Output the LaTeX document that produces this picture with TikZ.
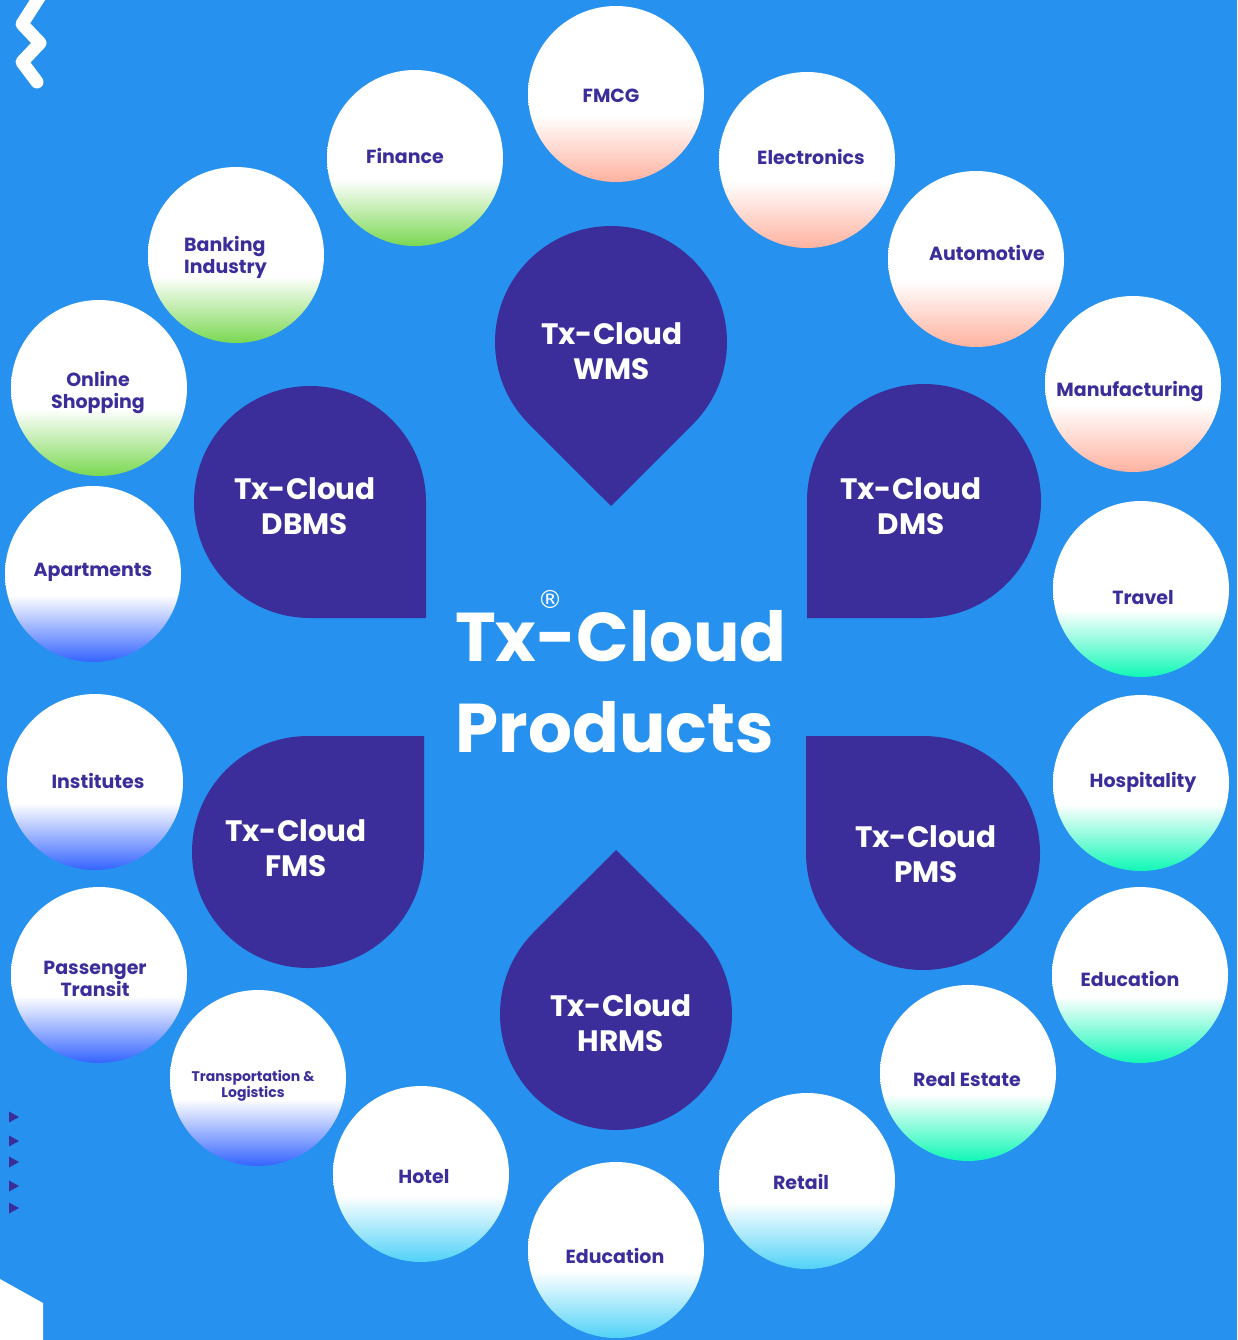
\documentclass[tikz,border=0pt]{standalone}
\usepackage{fontspec}
\setmainfont{Poppins}
\newfontfamily\symfont{DejaVu Sans}
\definecolor{bg}{RGB}{38,145,238}
\definecolor{pinc}{RGB}{59,46,155}
\definecolor{cpink}{RGB}{255,178,160}
\definecolor{cgreen}{RGB}{122,216,82}
\definecolor{cblue}{RGB}{52,100,255}
\definecolor{ccyan}{RGB}{80,210,248}
\definecolor{cteal}{RGB}{16,248,182}
\pgfdeclareverticalshading{gpink}{100bp}{color(0bp)=(cpink); color(25bp)=(cpink); color(44bp)=(white); color(100bp)=(white)}
\pgfdeclareverticalshading{ggreen}{100bp}{color(0bp)=(cgreen); color(25bp)=(cgreen); color(44bp)=(white); color(100bp)=(white)}
\pgfdeclareverticalshading{gblue}{100bp}{color(0bp)=(cblue); color(25bp)=(cblue); color(44bp)=(white); color(100bp)=(white)}
\pgfdeclareverticalshading{gcyan}{100bp}{color(0bp)=(ccyan); color(25bp)=(ccyan); color(44bp)=(white); color(100bp)=(white)}
\pgfdeclareverticalshading{gteal}{100bp}{color(0bp)=(cteal); color(25bp)=(cteal); color(44bp)=(white); color(100bp)=(white)}
\begin{document}
\begin{tikzpicture}[x=1pt,y=-1pt,
  bubble/.style={circle, minimum size=176pt, inner sep=0pt, shade, shading=#1},
  lab/.style={text=pinc, font=\bfseries\fontsize{19}{22}\selectfont, align=center, inner sep=0pt},
  pin/.style={fill=pinc},
  pinlab/.style={text=white, font=\bfseries\fontsize{29.5}{35}\selectfont, align=center, inner sep=0pt},
  ttl/.style={text=white, font=\bfseries\fontsize{69}{69}\selectfont, inner sep=0pt},
  tri/.style={fill=pinc}]
\useasboundingbox (0,0) rectangle (1237,1340);
\fill[bg] (0,0) rectangle (1237,1340);
% decorations
\draw[white, line width=13pt, line cap=round, line join=round] (40,-4) -- (22,24) -- (40,43) -- (22,62) -- (37,82);
\fill[white] (0,1279) -- (43,1303) -- (43,1340) -- (0,1340) -- cycle;
\foreach \yy in {1117,1141,1162,1186,1208}{
  \fill[tri] (9,\yy-5.5) -- (19,\yy) -- (9,\yy+5.5) -- cycle;}
% pins
\fill[pin] (611,342) ++(45:116) arc[start angle=45,end angle=-225,radius=116] -- (611,506) -- cycle;
\fill[pin] (616,1014) ++(-45:116) arc[start angle=-45,end angle=225,radius=116] -- (616,850) -- cycle;
\fill[pin] (426,618) -- (426,502) arc[start angle=0,end angle=-270,radius=116] -- cycle;
\fill[pin] (807,618) -- (924,618) arc[start angle=90,end angle=-180,radius=117] -- cycle;
\fill[pin] (424,736) -- (308,736) arc[start angle=-90,end angle=-360,radius=116] -- cycle;
\fill[pin] (806,736) -- (806,853) arc[start angle=180,end angle=-90,radius=117] -- cycle;
\node[pinlab] (wms) at (612,351) {Tx-Cloud\\WMS};
\node[pinlab] (dbms) at (305,506) {Tx-Cloud\\DBMS};
\node[pinlab] (dms) at (911,506) {Tx-Cloud\\DMS};
\node[pinlab] (fms) at (296,848) {Tx-Cloud\\FMS};
\node[pinlab] (pms) at (926,854) {Tx-Cloud\\PMS};
\node[pinlab] (hrms) at (621,1023) {Tx-Cloud\\HRMS};
% title
\node[ttl] (title1) at (621,636) {Tx-Cloud};
\node[ttl] (title2) at (615,727) {Products};
\node[text=white, font=\symfont\fontsize{25}{25}\selectfont, inner sep=0pt] (reg) at (550,599) {®};
% bubbles
\node[bubble=gpink] (b-fmcg) at (616,94) {};
\node[bubble=gpink] (b-elec) at (807,160) {};
\node[bubble=gpink] (b-auto) at (976,259) {};
\node[bubble=gpink] (b-manu) at (1133,384) {};
\node[bubble=gteal] (b-trav) at (1141,589) {};
\node[bubble=gteal] (b-hosp) at (1141,783) {};
\node[bubble=gteal] (b-edur) at (1140,975) {};
\node[bubble=gteal] (b-real) at (968,1073) {};
\node[bubble=gcyan] (b-reta) at (807,1181) {};
\node[bubble=gcyan] (b-edub) at (616,1250) {};
\node[bubble=gcyan] (b-hote) at (421,1174) {};
\node[bubble=gblue] (b-tran) at (258,1078) {};
\node[bubble=gblue] (b-pass) at (99,975) {};
\node[bubble=gblue] (b-inst) at (95,782) {};
\node[bubble=gblue] (b-apar) at (93,574) {};
\node[bubble=ggreen] (b-onli) at (99,388) {};
\node[bubble=ggreen] (b-bank) at (236,255) {};
\node[bubble=ggreen] (b-fina) at (415,158) {};
% labels
\node[lab] (t-fmcg) at (611,96) {FMCG};
\node[lab] (t-elec) at (811,157) {Electronics};
\node[lab] (t-auto) at (987,253) {Automotive};
\node[lab] (t-manu) at (1130,392) {Manufacturing};
\node[lab] (t-trav) at (1143,598) {Travel};
\node[lab] (t-hosp) at (1143,782) {Hospitality};
\node[lab] (t-edur) at (1130,979) {Education};
\node[lab] (t-real) at (967,1080) {Real Estate};
\node[lab] (t-reta) at (801,1182) {Retail};
\node[lab] (t-edub) at (615,1256) {Education};
\node[lab] (t-hote) at (424,1177) {Hotel};
\node[lab, font=\bfseries\fontsize{14}{16}\selectfont] (t-tran) at (253,1086) {Transportation \&\\Logistics};
\node[lab] (t-pass) at (95,979) {Passenger\\Transit};
\node[lab] (t-inst) at (98,781) {Institutes};
\node[lab] (t-apar) at (93,572) {Apartments};
\node[lab] (t-onli) at (98,393) {Online\\Shopping};
\node[lab, align=left, anchor=west] (t-bank) at (184,257) {Banking\\Industry};
\node[lab] (t-fina) at (405,156) {Finance};
\end{tikzpicture}
\end{document}
